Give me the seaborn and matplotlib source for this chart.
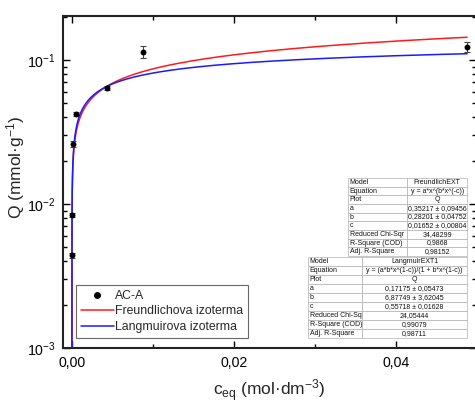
import numpy as np
import pandas as pd
import matplotlib
matplotlib.use("Agg")
import matplotlib.pyplot as plt
import matplotlib.ticker as mticker
from matplotlib.lines import Line2D
import seaborn as sns

# ---- data ----
c_eq = [0.00002, 0.00005, 0.0001, 0.0005, 0.0043, 0.00877, 0.0488]
Q = [0.0044, 0.0084, 0.0261, 0.0422, 0.0640, 0.1136, 0.1230]
Q_err = [0.0002, 0.0003, 0.0012, 0.0012, 0.0020, 0.0110, 0.0100]

# fit parameters (from the tables in the chart)
freund_a, freund_b, freund_c = 0.35217, 0.28201, 0.01652
lang_a, lang_b, lang_c = 0.17175, 6.87749, 0.55718

x_ticks = [0.00, 0.02, 0.04]

table1_rows = ["Model", "Equation", "Plot", "a", "b", "c",
               "Reduced Chi-Sqr", "R-Square (COD)", "Adj. R-Square"]
table1_vals = ["FreundlichEXT", "y = a*x^(b*x^(-c))", "Q",
               "0,35217 ± 0,09456", "0,28201 ± 0,04752", "0,01652 ± 0,00804",
               "34,48299", "0,9868", "0,98152"]
table2_vals = ["LangmuirEXT1", "y = (a*b*x^(1-c))/(1 + b*x^(1-c))", "Q",
               "0,17175 ± 0,05473", "6,87749 ± 3,62045", "0,55718 ± 0,01628",
               "24,05444", "0,99079", "0,98711"]

sns.set_theme(style="white")
plt.rcParams["font.family"] = ["Liberation Sans", "DejaVu Sans"]
plt.rcParams["mathtext.fontset"] = "custom"
plt.rcParams["mathtext.rm"] = "Liberation Sans"
plt.rcParams["mathtext.it"] = "Liberation Sans:italic"
plt.rcParams["mathtext.bf"] = "Liberation Sans:bold"

fig = plt.figure(figsize=(4.75, 4.03), dpi=100)
ax = fig.add_axes([63 / 475, 55 / 403, 413 / 475, 332 / 403])

# curves
xc = np.unique(np.concatenate([np.logspace(-8, -3, 400), np.linspace(1e-3, 0.0488, 400)]))
yf = freund_a * xc ** (freund_b * xc ** (-freund_c))
t = lang_b * xc ** (1 - lang_c)
yl = lang_a * t / (1 + t)
curves = pd.DataFrame({"x": xc, "yf": yf, "yl": yl})
sns.lineplot(data=curves, x="x", y="yf", color="#ff1a1a", lw=1.1, ax=ax, sort=False)
sns.lineplot(data=curves, x="x", y="yl", color="#1a1aff", lw=1.1, ax=ax, sort=False)

# data
df = pd.DataFrame({"c": c_eq, "Q": Q, "err": Q_err})
ax.errorbar(df["c"], df["Q"], yerr=df["err"], fmt="none", ecolor="#444444",
            elinewidth=0.8, capsize=2.5, capthick=0.8, zorder=3)
sns.scatterplot(data=df, x="c", y="Q", color="black", s=18, edgecolor="black",
                linewidth=0, ax=ax, zorder=4)

ax.set_yscale("log")
ax.set_ylim(1e-3, 0.202)
ax.set_xlim(-0.0011, 0.0499)
ax.set_xticks(x_ticks)
ax.xaxis.set_minor_locator(mticker.MultipleLocator(0.01))
ax.xaxis.set_major_formatter(mticker.FuncFormatter(lambda v, p: f"{v:.2f}".replace(".", ",")))

ax.tick_params(which="both", direction="in", top=True, right=True, bottom=True, left=True,
               colors="black", labelsize=10.2, width=1.0)
ax.tick_params(which="major", length=5)
ax.tick_params(which="minor", length=3)
ax.tick_params(axis="x", pad=6)
ax.tick_params(axis="y", pad=5)
for s in ax.spines.values():
    s.set_color("#222222")
    s.set_linewidth(1.5)

ax.set_xlabel("c$_{\\mathrm{eq}}$ (mol·dm$^{-3}$)", fontsize=12.5, labelpad=5)
ax.set_ylabel("Q (mmol·g$^{-1}$)", fontsize=12.5)
ax.yaxis.set_label_coords(-0.087, 0.545)

# legend
handles = [Line2D([], [], marker="o", color="black", ls="none", markersize=4),
           Line2D([], [], color="#ff1a1a", lw=1.1),
           Line2D([], [], color="#1a1aff", lw=1.1)]
labels = ["AC-A", "Freundlichova izoterma", "Langmuirova izoterma"]
leg = ax.legend(handles, labels, loc="lower left", bbox_to_anchor=(0.031, 0.03),
                fontsize=8.8, frameon=True, fancybox=False, labelspacing=0.3,
                handlelength=2.7, handletextpad=0.1, borderpad=0.4, borderaxespad=0)
leg.get_frame().set_edgecolor("#444444")
leg.get_frame().set_linewidth(0.8)


def draw_table(vals, bbox, colw):
    cell = list(zip(table1_rows, vals))
    tb = ax.table(cellText=cell, bbox=bbox, colWidths=colw, zorder=6)
    tb.auto_set_font_size(False)
    tb.set_fontsize(5)
    for (r, c), ce in tb.get_celld().items():
        ce.set_edgecolor("#b0b0b0")
        ce.set_linewidth(0.5)
        ce.set_facecolor("white")
        ce.get_text().set_color("#111111")
        if c == 0:
            ce.set_text_props(ha="left")
            ce.PAD = 0.03
        else:
            ce.set_text_props(ha="center")
    return tb


draw_table(table1_vals, [0.690, 0.277, 0.288, 0.235], [0.5, 0.5])
draw_table(table2_vals, [0.593, 0.030, 0.385, 0.244], [0.34, 0.66])

fig.savefig("out.png", dpi=100)
